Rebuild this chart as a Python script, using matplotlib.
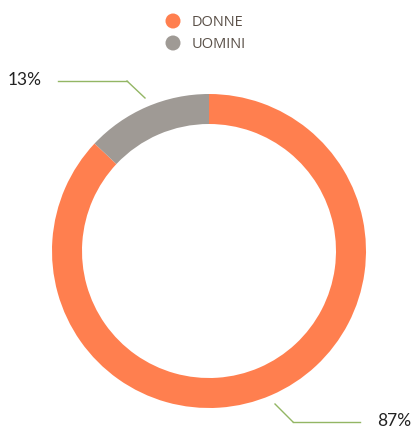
import numpy as np
import matplotlib
matplotlib.use('Agg')
from matplotlib import pyplot as plt
from matplotlib.patches import Circle

# --- data
labels = ['DONNE', 'UOMINI']
values = [87, 13]
pct_labels = ['87%', '13%']
colors = ['#FF7F4F', '#9F9A95']

plt.rcParams['font.family'] = ['Lato', 'DejaVu Sans']

W, H = 418, 429
fig = plt.figure(figsize=(W / 100, H / 100), dpi=100)
ax = fig.add_axes([0, 0, 1, 1])

# pixel-ish coordinates, y up
cx, cy, r = 209, H - 251, 157
ax.pie(values, colors=colors, startangle=90, counterclock=False,
       radius=r, center=(cx, cy),
       wedgeprops=dict(width=30, linewidth=0))
ax.set_xlim(0, W)
ax.set_ylim(0, H)
ax.set_aspect('equal')
ax.axis('off')

# leader lines
line_col = '#93B664'
ax.plot([293, 360], [H - 422, H - 422], color=line_col, lw=1)
ax.plot([275, 293], [H - 404, H - 422], color=line_col, lw=1)
ax.text(377, H - 421, pct_labels[0], fontsize=12.5, color='#222222', va='center', ha='left')

ax.plot([58, 127], [H - 81, H - 81], color=line_col, lw=1)
ax.plot([127, 145], [H - 81, H - 98], color=line_col, lw=1)
ax.text(8, H - 80, pct_labels[1], fontsize=12.5, color='#222222', va='center', ha='left')

# legend
for i, (lab, col) in enumerate(zip(labels, colors)):
    y = H - 21 - i * 22
    ax.add_patch(Circle((173, y), 7.5, color=col, lw=0))
    ax.text(192, y - 1, lab, fontsize=10.5, color='#5A5048', va='center', ha='left',
            family=['Open Sans', 'DejaVu Sans'])

fig.savefig('out.png', dpi=100)
